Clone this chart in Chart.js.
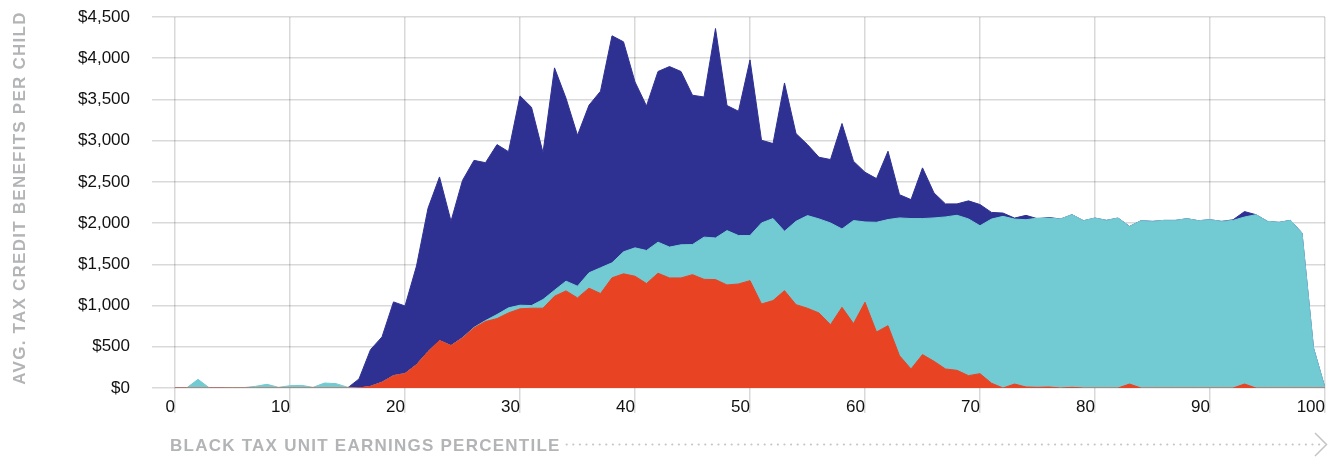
<!DOCTYPE html>
<html>
<head>
<meta charset="utf-8">
<script src="https://cdn.jsdelivr.net/npm/chart.js@4"></script>
<style>
  html, body { margin: 0; padding: 0; background: #fff; }
  #wrap { width: 1340px; height: 458px; position: relative; }
</style>
</head>
<body>
<div id="wrap"><canvas id="myChart"></canvas></div>
<script>
// percentile of black tax unit earnings
var percentiles = [
  0, 1, 2, 3, 4, 5, 6, 7, 8, 9,
  10, 11, 12, 13, 14, 15, 16, 17, 18, 19,
  20, 21, 22, 23, 24, 25, 26, 27, 28, 29,
  30, 31, 32, 33, 34, 35, 36, 37, 38, 39,
  40, 41, 42, 43, 44, 45, 46, 47, 48, 49,
  50, 51, 52, 53, 54, 55, 56, 57, 58, 59,
  60, 61, 62, 63, 64, 65, 66, 67, 68, 69,
  70, 71, 72, 73, 74, 75, 76, 77, 78, 79,
  80, 81, 82, 83, 84, 85, 86, 87, 88, 89,
  90, 91, 92, 93, 94, 95, 96, 97, 98, 99,
  100
];

// navy series (largest)
var navyValues = [
  0, 0, 0, 0, 0, 0, 0, 0, 0, 0,
  0, 0, 0, 0, 0, 0, 110, 465, 620, 1044,
  995, 1480, 2180, 2560, 2024, 2518, 2761, 2733, 2952, 2867,
  3543, 3405, 2855, 3883, 3515, 3065, 3430, 3600, 4272, 4199,
  3713, 3421, 3839, 3899, 3839, 3551, 3530, 4360, 3426, 3357,
  3980, 3005, 2965, 3700, 3086, 2952, 2799, 2771, 3208, 2750,
  2617, 2540, 2872, 2345, 2285, 2670, 2366, 2233, 2233, 2270,
  2225, 2130, 2122, 2061, 2094, 2053, 2069, 2049, 2102, 2029,
  2061, 2033, 2061, 1960, 2029, 2021, 2033, 2033, 2053, 2029,
  2041, 2021, 2040, 2140, 2102, 2021, 2009, 2033, 1880, 485,
  0
];

// teal series
var tealValues = [
  0, 0, 105, 0, 0, 5, 5, 20, 45, 8,
  28, 32, 8, 60, 53, 10, 0, 20, 70, 150,
  175, 283, 441, 575, 514, 610, 735, 818, 891, 972,
  1004, 1000, 1073, 1186, 1296, 1235, 1397, 1458, 1518, 1652,
  1700, 1668, 1769, 1709, 1737, 1740, 1830, 1820, 1909, 1849,
  1849, 2002, 2055, 1901, 2022, 2091, 2051, 2002, 1929, 2031,
  2014, 2010, 2043, 2063, 2055, 2055, 2063, 2075, 2095, 2051,
  1968, 2049, 2082, 2049, 2041, 2061, 2061, 2049, 2102, 2029,
  2061, 2033, 2061, 1960, 2029, 2021, 2033, 2033, 2053, 2029,
  2041, 2021, 2033, 2074, 2102, 2021, 2009, 2033, 1880, 485,
  0
];

// red series
var redValues = [
  0, 0, 0, 0, 0, 0, 0, 0, 0, 0,
  0, 0, 0, 0, 0, 0, 0, 20, 70, 150,
  175, 283, 441, 575, 514, 607, 729, 806, 842, 911,
  960, 968, 968, 1113, 1178, 1093, 1211, 1146, 1336, 1385,
  1356, 1267, 1392, 1335, 1335, 1375, 1318, 1315, 1250, 1262,
  1302, 1019, 1060, 1181, 1011, 967, 910, 768, 979, 781,
  1040, 680, 756, 392, 231, 405, 324, 231, 214, 150,
  174, 58, 0, 48, 12, 8, 12, 0, 8, 0,
  0, 0, 0, 48, 0, 0, 0, 0, 0, 0,
  0, 0, 0, 48, 0, 0, 0, 0, 0, 0,
  0
];

var yTicks = [0, 500, 1000, 1500, 2000, 2500, 3000, 3500, 4000, 4500];
var xTitle = "BLACK TAX UNIT EARNINGS PERCENTILE";
var yTitle = "AVG. TAX CREDIT BENEFITS PER CHILD";

function toPoints(values) {
  return percentiles.map(function (p, i) { return { x: p, y: values[i] }; });
}

var gridColor = "rgba(0,0,0,0.15)";
var tickFont = { family: '"Liberation Sans", Arial, sans-serif', size: 17 };

// titles + dotted arrow drawn by hand, letter spaced like the original
var axisTitles = {
  id: "axisTitles",
  afterDraw: function (chart) {
    var ctx = chart.ctx;
    ctx.save();
    ctx.font = 'bold 17px "Liberation Sans", Arial, sans-serif';
    ctx.fillStyle = "#b3b4b6";
    ctx.letterSpacing = "1.25px";
    ctx.textBaseline = "alphabetic";
    ctx.textAlign = "left";
    ctx.fillText(xTitle, 170, 451);
    var w = ctx.measureText(xTitle).width;

    // dotted line to the arrow
    ctx.fillStyle = "#c4c5c7";
    for (var dx = 170 + w + 6; dx < 1320; dx += 6.6) {
      ctx.beginPath();
      ctx.arc(dx, 444.5, 1.1, 0, Math.PI * 2);
      ctx.fill();
    }
    ctx.strokeStyle = "#c4c5c7";
    ctx.lineWidth = 1.5;
    ctx.beginPath();
    ctx.moveTo(1315, 433);
    ctx.lineTo(1326.5, 444.5);
    ctx.lineTo(1315, 456);
    ctx.stroke();

    // y title
    ctx.fillStyle = "#b3b4b6";
    ctx.translate(25, 198);
    ctx.rotate(-Math.PI / 2);
    ctx.textAlign = "center";
    ctx.fillText(yTitle, 0, 0);
    ctx.restore();
  }
};

new Chart("myChart", {
  type: "line",
  data: {
    datasets: [
      { label: "red", data: toPoints(redValues), backgroundColor: "#e84424", borderColor: "#e84424", fill: "origin" },
      { label: "teal", data: toPoints(tealValues), backgroundColor: "#72cbd3", borderColor: "#72cbd3", fill: "origin" },
      { label: "navy", data: toPoints(navyValues), backgroundColor: "#2e3192", borderColor: "#2e3192", fill: "origin" }
    ]
  },
  options: {
    responsive: true,
    maintainAspectRatio: false,
    animation: false,
    layout: { padding: { top: 17, right: 15, left: 0, bottom: 0 } },
    elements: {
      point: { radius: 0 },
      line: { borderWidth: 1, tension: 0 }
    },
    plugins: {
      legend: { display: false },
      tooltip: { enabled: false }
    },
    scales: {
      x: {
        type: "linear",
        min: 0,
        max: 100,
        z: 1,
        border: { display: false },
        grid: { color: gridColor, lineWidth: 1.5, tickLength: 25 },
        ticks: { stepSize: 10, align: "end", padding: -16, color: "#111", font: tickFont, maxRotation: 0 },
        afterFit: function (scale) {
          scale.height = 70;
          scale.paddingLeft = 0;
          scale.paddingRight = 0;
        }
      },
      y: {
        min: 0,
        max: 4500,
        z: 1,
        border: { display: false },
        grid: { color: gridColor, lineWidth: 1.5, tickLength: 23 },
        afterBuildTicks: function (scale) {
          scale.ticks = yTicks.map(function (v) { return { value: v }; });
        },
        ticks: {
          padding: 22,
          color: "#111",
          font: tickFont,
          callback: function (v) { return "$" + Number(v).toLocaleString("en-US"); }
        },
        afterFit: function (scale) {
          scale.width = 175;
          scale.paddingTop = 0;
          scale.paddingBottom = 0;
        }
      }
    }
  },
  plugins: [axisTitles]
});
</script>
</body>
</html>
